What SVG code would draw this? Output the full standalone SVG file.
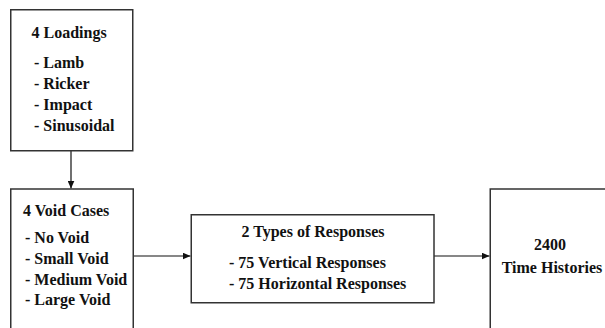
<svg xmlns="http://www.w3.org/2000/svg" width="605" height="328" viewBox="0 0 605 328">
<style>
.box{fill:#fff;stroke:#333;stroke-width:1.5}
.t{font-family:'Liberation Serif','Times New Roman',serif;font-weight:bold;font-size:16px;fill:#111}
.c{text-anchor:middle}
.edge{stroke:#111;stroke-width:1.2;fill:none;marker-end:url(#ah)}
</style>
<defs>
<marker id="ah" markerWidth="8" markerHeight="7" refX="8" refY="3.5" orient="auto" markerUnits="userSpaceOnUse">
<path d="M0,0 L8,3.5 L0,7 Z" fill="#111"/>
</marker>
</defs>
<rect width="605" height="328" fill="#fff"/>
<g id="connectors">
<line class="edge" x1="71" y1="151" x2="71" y2="188.5"/>
<line class="edge" x1="133" y1="256" x2="190.5" y2="256"/>
<line class="edge" x1="434" y1="256" x2="489.5" y2="256"/>
</g>
<g id="loadings">
<rect class="box" x="10.75" y="9.75" width="122" height="141"/>
<text class="t" x="31.5" y="38">4 Loadings</text>
<text class="t" x="34" y="68">- Lamb</text>
<text class="t" x="34" y="89">- Ricker</text>
<text class="t" x="34" y="110">- Impact</text>
<text class="t" x="34" y="130.5">- Sinusoidal</text>
</g>
<g id="voids">
<rect class="box" x="10.75" y="189" width="122.5" height="145"/>
<text class="t" x="23" y="215.5">4 Void Cases</text>
<text class="t" x="25" y="243">- No Void</text>
<text class="t" x="25" y="264">- Small Void</text>
<text class="t" x="25" y="284.5">- Medium Void</text>
<text class="t" x="25" y="305">- Large Void</text>
</g>
<g id="responses">
<rect class="box" x="191.25" y="214.75" width="242.75" height="88"/>
<text class="t c" x="313" y="236.5">2 Types of Responses</text>
<text class="t" x="229" y="268">- 75 Vertical Responses</text>
<text class="t" x="229" y="289">- 75 Horizontal Responses</text>
</g>
<g id="histories">
<rect class="box" x="490.25" y="189" width="130" height="145"/>
<text class="t c" x="550" y="250">2400</text>
<text class="t c" x="552" y="273">Time Histories</text>
</g>
</svg>
